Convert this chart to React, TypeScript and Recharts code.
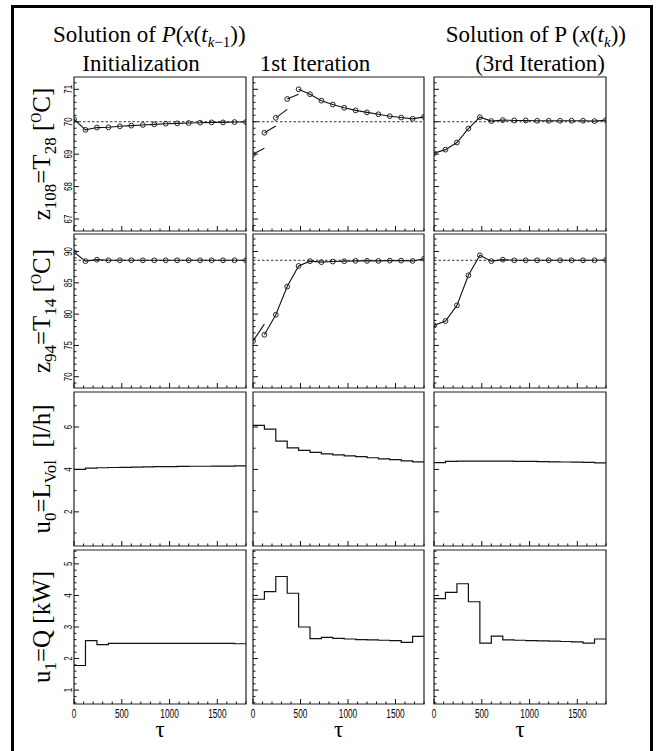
import React from 'react';
import { LineChart, Line, XAxis, YAxis, ReferenceLine, ReferenceArea } from 'recharts';

const serif = "'Liberation Serif', 'Times New Roman', serif";
const sans = "'Liberation Sans', Arial, sans-serif";

// sampling grid (shooting nodes), tau in s
const tau = [0, 120, 240, 360, 480, 600, 720, 840, 960, 1080, 1200, 1320, 1440, 1560, 1680, 1800];

// z108 = T28 [°C]
const t28Init = [70.08, 69.75, 69.82, 69.83, 69.86, 69.88, 69.9, 69.92, 69.94, 69.95, 69.96, 69.97, 69.98, 69.98, 69.99, 69.99];
const t28Iter1 = [69.0, 69.66, 70.12, 70.7, 71.0, 70.85, 70.65, 70.53, 70.43, 70.35, 70.29, 70.23, 70.17, 70.13, 70.09, 70.15];
const t28Iter1Ends = [69.18, 69.87, 70.38, 70.85]; // end of the first intervals (not yet continuous)
const t28Iter3 = [69.03, 69.14, 69.36, 69.79, 70.14, 70.02, 70.05, 70.04, 70.04, 70.03, 70.03, 70.03, 70.03, 70.03, 70.02, 70.05];
const t28Setpoint = 70;

// z94 = T14 [°C]
const t14Init = [89.9, 88.46, 88.7, 88.6, 88.6, 88.6, 88.6, 88.6, 88.6, 88.6, 88.6, 88.6, 88.6, 88.6, 88.6, 88.6];
const t14Iter1 = [75.7, 76.7, 79.9, 84.4, 87.7, 88.46, 88.3, 88.4, 88.45, 88.5, 88.5, 88.5, 88.55, 88.55, 88.5, 88.83];
const t14Iter1Ends = [78.4];
const t14Iter3 = [78.2, 78.9, 81.4, 86.2, 89.4, 88.46, 88.7, 88.6, 88.6, 88.6, 88.6, 88.6, 88.6, 88.6, 88.6, 88.65];
const t14Setpoint = 88.6;

// u0 = L_Vol [l/h], piecewise constant per interval
const lvolInit = [4.0, 4.06, 4.08, 4.09, 4.1, 4.11, 4.12, 4.13, 4.13, 4.14, 4.15, 4.15, 4.16, 4.16, 4.17];
const lvolIter1 = [6.08, 5.9, 5.33, 5.02, 4.9, 4.8, 4.73, 4.69, 4.64, 4.6, 4.55, 4.5, 4.46, 4.4, 4.36];
const lvolIter3 = [4.32, 4.38, 4.39, 4.39, 4.39, 4.39, 4.39, 4.38, 4.38, 4.37, 4.36, 4.35, 4.34, 4.33, 4.31];

// u1 = Q [kW]
const qInit = [1.78, 2.57, 2.44, 2.48, 2.48, 2.48, 2.48, 2.48, 2.48, 2.48, 2.48, 2.48, 2.48, 2.48, 2.47];
const qIter1 = [3.88, 4.12, 4.6, 4.07, 3.0, 2.63, 2.67, 2.64, 2.62, 2.6, 2.59, 2.58, 2.57, 2.51, 2.7];
const qIter3 = [3.9, 4.1, 4.37, 3.8, 2.49, 2.71, 2.59, 2.58, 2.57, 2.56, 2.55, 2.54, 2.53, 2.49, 2.62];

// axis ticks
const xMajor = [0, 500, 1000, 1500];
const t28Major = [67, 68, 69, 70, 71];
const t14Major = [70, 75, 80, 85, 90];
const lvolMajor = [2, 4, 6];
const qMajor = [1, 2, 3, 4, 5];

const range = (a: number, b: number, s: number) => {
  const out: number[] = [];
  for (let v = a; v <= b + 1e-9; v += s) out.push(Math.round(v * 100) / 100);
  return out;
};

const xTicks = range(0, 1800, 100);

const rows = [
  { lo: 66.63, hi: 71.38, ticks: range(66.8, 71.2, 0.2), major: t28Major, setpoint: t28Setpoint },
  { lo: 68.2, hi: 92.8, ticks: range(69, 92, 1), major: t14Major, setpoint: t14Setpoint },
  { lo: 0.39, hi: 7.65, ticks: range(1, 7, 1), major: lvolMajor },
  { lo: 0.56, hi: 5.44, ticks: range(0.6, 5.4, 0.2), major: qMajor },
];

const panels: any[][] = [
  [{ nodes: t28Init }, { nodes: t28Iter1, ends: t28Iter1Ends }, { nodes: t28Iter3 }],
  [{ nodes: t14Init }, { nodes: t14Iter1, ends: t14Iter1Ends }, { nodes: t14Iter3 }],
  [{ steps: lvolInit }, { steps: lvolIter1 }, { steps: lvolIter3 }],
  [{ steps: qInit }, { steps: qIter1 }, { steps: qIter3 }],
];

const ROW_TOPS = [77, 234, 392, 550];
const COL_LEFTS = [74, 253, 434];
const COL_WIDTHS = [172, 171, 172];
const PLOT_H = 154;
// axes are 1px wide/high, so the plot area starts 30px in
const M = { top: 5, right: 5, bottom: 29, left: 29 };
const PL = 30;

// split a shooting trajectory into continuous pieces
function buildPieces(nodes: number[], ends: number[] = []) {
  const pieces: { t: number; v: number }[][] = [];
  let cur = [{ t: tau[0], v: nodes[0] }];
  for (let i = 0; i < nodes.length - 1; i++) {
    const end = i < ends.length ? ends[i] : nodes[i + 1];
    cur.push({ t: tau[i + 1], v: end });
    if (end !== nodes[i + 1]) {
      pieces.push(cur);
      cur = [{ t: tau[i + 1], v: nodes[i + 1] }];
    }
  }
  pieces.push(cur);
  return pieces;
}

const isMajor = (v: number, major: number[]) => major.some((m) => Math.abs(m - v) < 1e-6);

function Panel({ r, c }: { r: number; c: number }) {
  const row = rows[r];
  const spec = panels[r][c];
  const w = COL_WIDTHS[c];
  const bottom = M.top + PLOT_H;
  const showX = r === 3;
  const showY = c === 0;

  const xTick = (props: any) => {
    const { x, payload } = props;
    const major = isMajor(payload.value, xMajor);
    const s = String(payload.value);
    return (
      <g>
        <line x1={x} x2={x} y1={bottom} y2={bottom - (major ? 5 : 2.5)} stroke="#111" strokeWidth={1} />
        {showX && major && (
          <text x={x} y={bottom + 14} textAnchor="middle" fontSize={12} fontFamily={sans} fill="#000"
            textLength={s.length * 4.6} lengthAdjust="spacingAndGlyphs">
            {s}
          </text>
        )}
      </g>
    );
  };

  const yTick = (props: any) => {
    const { y, payload } = props;
    const major = isMajor(payload.value, row.major);
    const s = String(payload.value);
    const lx = PL - 2;
    return (
      <g>
        <line x1={PL} x2={PL + (major ? 5 : 2.5)} y1={y} y2={y} stroke="#111" strokeWidth={1} />
        {showY && major && (
          <text x={lx} y={y} transform={`rotate(-90 ${lx} ${y})`} textAnchor="middle" fontSize={10.5}
            fontFamily={sans} fill="#000" textLength={s.length * 4.4} lengthAdjust="spacingAndGlyphs">
            {s}
          </text>
        )}
      </g>
    );
  };

  let series: React.ReactNode[] = [];
  if (spec.nodes) {
    const pieces = buildPieces(spec.nodes, spec.ends);
    series = pieces.map((p, i) => (
      <Line key={`p${i}`} data={p} dataKey="v" type="linear" stroke="#111" strokeWidth={1.1}
        dot={false} activeDot={false} isAnimationActive={false} />
    ));
    const nodeData = spec.nodes.map((v: number, i: number) => ({ t: tau[i], v }));
    series.push(
      <Line key="nodes" data={nodeData} dataKey="v" stroke="none"
        dot={{ r: 2.4, fill: 'none', stroke: '#222', strokeWidth: 1 }}
        activeDot={false} isAnimationActive={false} />
    );
  } else {
    const vals: number[] = spec.steps;
    const stepData = tau.map((t, i) => ({ t, v: vals[Math.min(i, vals.length - 1)] }));
    series = [
      <Line key="u" data={stepData} dataKey="v" type="stepAfter" stroke="#111" strokeWidth={1.2}
        dot={false} activeDot={false} isAnimationActive={false} />,
    ];
  }

  return (
    <div style={{ position: 'absolute', left: COL_LEFTS[c] - PL, top: ROW_TOPS[r] - M.top }}>
      <LineChart width={w + PL + M.right} height={PLOT_H + M.top + 30} margin={M}>
        <XAxis type="number" dataKey="t" domain={[0, 1800]} ticks={xTicks} interval={0} height={1}
          axisLine={false} tickLine={false} tick={xTick} allowDataOverflow />
        <YAxis type="number" domain={[row.lo, row.hi]} ticks={row.ticks} interval={0} width={1}
          axisLine={false} tickLine={false} tick={yTick} allowDataOverflow />
        <ReferenceArea x1={0} x2={1800} y1={row.lo} y2={row.hi} fill="none" stroke="#222" strokeWidth={1.2}
          fillOpacity={0} />
        {row.setpoint !== undefined && (
          <ReferenceLine y={row.setpoint} stroke="#000" strokeDasharray="2.5 2" strokeWidth={0.8} />
        )}
        {series}
      </LineChart>
    </div>
  );
}

export default function App() {
  const rowCenters = ROW_TOPS.map((t) => t + PLOT_H / 2);
  const labelX = 50;
  const ss = 17; // subscript size
  const sd = 6; // subscript shift
  return (
    <div style={{ position: 'absolute', left: 0, top: 0, width: 657, height: 751, overflow: 'hidden', background: '#fff' }}>
      <div style={{ position: 'absolute', left: 11, top: 5, width: 642, height: 770, border: '3px solid #000', boxSizing: 'border-box' }} />
      {[0, 1, 2, 3].map((r) => [0, 1, 2].map((c) => <Panel key={`${r}-${c}`} r={r} c={c} />))}
      <svg width={657} height={751} style={{ position: 'absolute', left: 0, top: 0, pointerEvents: 'none' }}>
        <g fontFamily={serif} fill="#000" fontSize={23}>
          <text x={53} y={42}>
            Solution of <tspan fontStyle="italic">P</tspan>(<tspan fontStyle="italic">x</tspan>(<tspan fontStyle="italic">t</tspan>
            <tspan dy={5} fontSize={15} fontStyle="italic">k</tspan>
            <tspan fontSize={15}>{'\u2212'}1</tspan>
            <tspan dy={-5}>))</tspan>
          </text>
          <text x={626} y={42} textAnchor="end">
            Solution of P (<tspan fontStyle="italic">x</tspan>(<tspan fontStyle="italic">t</tspan>
            <tspan dy={5} fontSize={15} fontStyle="italic">k</tspan>
            <tspan dy={-5}>))</tspan>
          </text>
          <text x={141} y={71} textAnchor="middle">Initialization</text>
          <text x={315} y={71} textAnchor="middle">1st Iteration</text>
          <text x={540} y={71} textAnchor="middle">(3rd Iteration)</text>
        </g>
        <g fontFamily={serif} fill="#000" fontSize={25}>
          <text transform={`translate(${labelX} ${rowCenters[0]}) rotate(-90)`} textAnchor="middle">
            z<tspan dy={sd} fontSize={ss}>108</tspan>
            <tspan dy={-sd}>=T</tspan>
            <tspan dy={sd} fontSize={ss}>28</tspan>
            <tspan dy={-sd}> [</tspan>
            <tspan dy={-9} fontSize={14}>O</tspan>
            <tspan dy={9}>C]</tspan>
          </text>
          <text transform={`translate(${labelX} ${rowCenters[1]}) rotate(-90)`} textAnchor="middle">
            z<tspan dy={sd} fontSize={ss}>94</tspan>
            <tspan dy={-sd}>=T</tspan>
            <tspan dy={sd} fontSize={ss}>14</tspan>
            <tspan dy={-sd}> [</tspan>
            <tspan dy={-9} fontSize={14}>O</tspan>
            <tspan dy={9}>C]</tspan>
          </text>
          <text transform={`translate(${labelX} ${rowCenters[2]}) rotate(-90)`} textAnchor="middle">
            u<tspan dy={sd} fontSize={ss}>0</tspan>
            <tspan dy={-sd}>=L</tspan>
            <tspan dy={sd} fontSize={ss}>Vol</tspan>
            <tspan dy={-sd}>{'\u00a0\u00a0'}[l/h]</tspan>
          </text>
          <text transform={`translate(${labelX} ${rowCenters[3]}) rotate(-90)`} textAnchor="middle">
            u<tspan dy={sd} fontSize={ss}>1</tspan>
            <tspan dy={-sd}>=Q [kW]</tspan>
          </text>
        </g>
        <g fontFamily={serif} fill="#000" fontSize={23}>
          {COL_LEFTS.map((l, i) => (
            <text key={i} x={l + COL_WIDTHS[i] / 2} y={737} textAnchor="middle">τ</text>
          ))}
        </g>
      </svg>
    </div>
  );
}
